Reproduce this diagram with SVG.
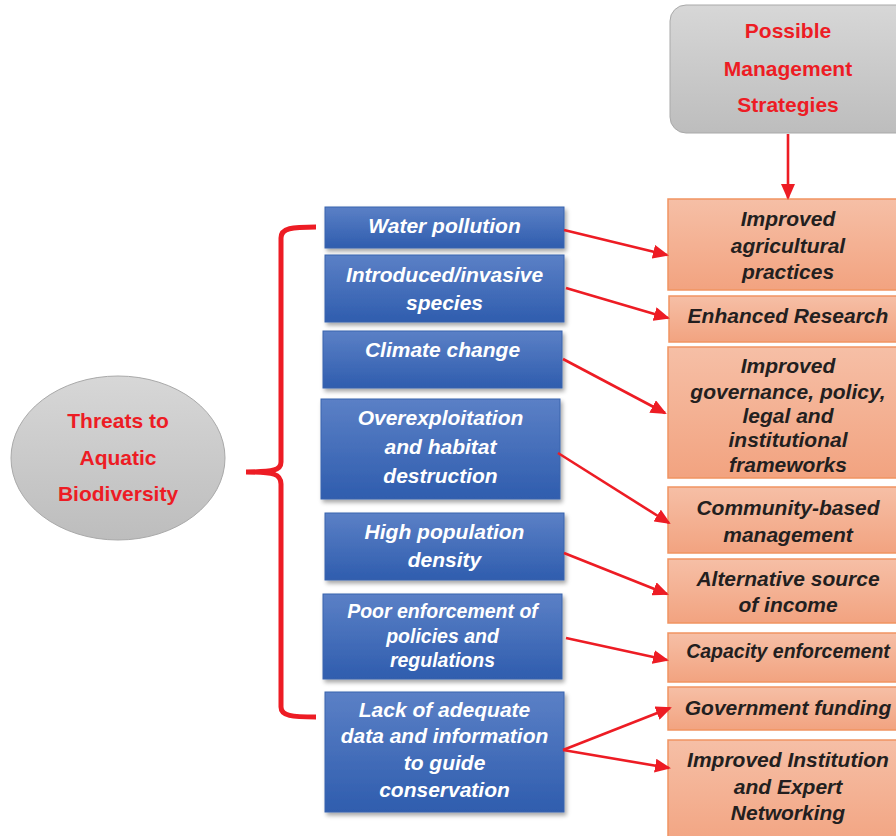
<svg xmlns="http://www.w3.org/2000/svg" width="896" height="836" viewBox="0 0 896 836">
<defs>
<linearGradient id="gBlue" x1="0" y1="0" x2="0" y2="1"><stop offset="0" stop-color="#5b80c6"/><stop offset="1" stop-color="#2f5dae"/></linearGradient>
<linearGradient id="gOrange" x1="0" y1="0" x2="0" y2="1"><stop offset="0" stop-color="#f6bfa6"/><stop offset="1" stop-color="#f2a380"/></linearGradient>
<linearGradient id="gGray" x1="0" y1="0" x2="0" y2="1"><stop offset="0" stop-color="#d7d7d7"/><stop offset="1" stop-color="#bdbdbd"/></linearGradient>
<filter id="sh" x="-10%" y="-10%" width="125%" height="130%"><feDropShadow dx="2" dy="3" stdDeviation="2" flood-color="#000" flood-opacity="0.35"/></filter>
<marker id="ah" markerUnits="userSpaceOnUse" markerWidth="16" markerHeight="14" refX="14" refY="7" orient="auto"><path d="M0,0 L16,7 L0,14 z" fill="#ed1c24"/></marker>
</defs>
<style>
.blue{fill:url(#gBlue);stroke:#3a64ad;stroke-width:1;filter:url(#sh)}
.org{fill:url(#gOrange);stroke:#f19461;stroke-width:1.5}
.gray{fill:url(#gGray);stroke:#a9a9a9;stroke-width:1}
.wt{font-family:"Liberation Sans",Arial,sans-serif;font-weight:bold;font-style:italic;font-size:21px;fill:#ffffff;text-anchor:middle}
.dt{font-family:"Liberation Sans",Arial,sans-serif;font-weight:bold;font-style:italic;font-size:21px;fill:#231f20;text-anchor:middle}
.rt{font-family:"Liberation Sans",Arial,sans-serif;font-weight:bold;font-size:21px;fill:#ed1c24;text-anchor:middle}
.sm{font-size:19.5px}
.conn{stroke:#ed1c24;stroke-width:2.6;fill:none;marker-end:url(#ah)}
.brace{stroke:#ed1c24;stroke-width:5;fill:none}
</style>

<g id="threats">
<ellipse cx="118" cy="458" rx="107" ry="82" class="gray"/>
<text class="rt" x="118" y="428">Threats to</text>
<text class="rt" x="118" y="465">Aquatic</text>
<text class="rt" x="118" y="501">Biodiversity</text>
</g>

<g id="strategies">
<rect x="670" y="5" width="250" height="128" rx="16" class="gray"/>
<text class="rt" x="788" y="38">Possible</text>
<text class="rt" x="788" y="76">Management</text>
<text class="rt" x="788" y="112">Strategies</text>
</g>

<g id="brace">
<path class="brace" d="M316,227 C292,227 281,228 281,238 L281,462 C281,470 274,472 246,472 C274,472 281,474 281,484 L281,707 C281,716 292,717 316,717"/>
</g>

<g id="t1"><rect x="325" y="207" width="239" height="41" class="blue"/><text class="wt" x="444.5" y="233">Water pollution</text></g>
<g id="t2"><rect x="325" y="255" width="239" height="67" class="blue"/><text class="wt" x="444.5" y="282">Introduced/invasive</text><text class="wt" x="444.5" y="310">species</text></g>
<g id="t3"><rect x="323" y="331" width="239" height="57" class="blue"/><text class="wt" x="442.5" y="357">Climate change</text></g>
<g id="t4"><rect x="321" y="399" width="239" height="100" class="blue"/><text class="wt" x="440.5" y="425">Overexploitation</text><text class="wt" x="440.5" y="454">and habitat</text><text class="wt" x="440.5" y="483">destruction</text></g>
<g id="t5"><rect x="325" y="513" width="239" height="67" class="blue"/><text class="wt" x="444.5" y="539">High population</text><text class="wt" x="444.5" y="567">density</text></g>
<g id="t6"><rect x="323" y="594" width="239" height="85" class="blue"/><text class="wt sm" x="442.5" y="618">Poor enforcement of</text><text class="wt sm" x="442.5" y="643">policies and</text><text class="wt sm" x="442.5" y="667">regulations</text></g>
<g id="t7"><rect x="325" y="692" width="239" height="120" class="blue"/><text class="wt" x="444.5" y="717">Lack of adequate</text><text class="wt" x="444.5" y="743">data and information</text><text class="wt" x="444.5" y="770">to guide</text><text class="wt" x="444.5" y="797">conservation</text></g>

<g id="s1"><rect x="668" y="199" width="240" height="91" class="org"/><text class="dt" x="788" y="226">Improved</text><text class="dt" x="788" y="253">agricultural</text><text class="dt" x="788" y="279">practices</text></g>
<g id="s2"><rect x="669" y="296" width="240" height="46" class="org"/><text class="dt" x="788" y="323">Enhanced Research</text></g>
<g id="s3"><rect x="668" y="347" width="240" height="131" class="org"/><text class="dt" x="788" y="373">Improved</text><text class="dt" x="788" y="399">governance, policy,</text><text class="dt" x="788" y="423">legal and</text><text class="dt" x="788" y="447">institutional</text><text class="dt" x="788" y="472">frameworks</text></g>
<g id="s4"><rect x="668" y="487" width="240" height="66" class="org"/><text class="dt" x="788" y="515">Community-based</text><text class="dt" x="788" y="542">management</text></g>
<g id="s5"><rect x="668" y="559" width="240" height="64" class="org"/><text class="dt" x="788" y="586">Alternative source</text><text class="dt" x="788" y="612">of income</text></g>
<g id="s6"><rect x="668" y="633" width="240" height="49" class="org"/><text class="dt sm" x="788" y="658">Capacity enforcement</text></g>
<g id="s7"><rect x="668" y="687" width="240" height="43" class="org"/><text class="dt" x="788" y="715">Government funding</text></g>
<g id="s8"><rect x="668" y="740" width="240" height="110" class="org"/><text class="dt" x="788" y="767">Improved Institution</text><text class="dt" x="788" y="794">and Expert</text><text class="dt" x="788" y="820">Networking</text></g>

<g id="connectors">
<line class="conn" x1="788" y1="134" x2="788" y2="198"/>
<line class="conn" x1="564" y1="230" x2="667" y2="255"/>
<line class="conn" x1="566" y1="288" x2="668" y2="318"/>
<line class="conn" x1="563" y1="359" x2="665" y2="413"/>
<line class="conn" x1="558" y1="453" x2="669" y2="523"/>
<line class="conn" x1="564" y1="553" x2="667" y2="594"/>
<line class="conn" x1="566" y1="638" x2="667" y2="660"/>
<line class="conn" x1="563" y1="750" x2="670" y2="708"/>
<line class="conn" x1="563" y1="750" x2="669" y2="768"/>
</g>
</svg>
